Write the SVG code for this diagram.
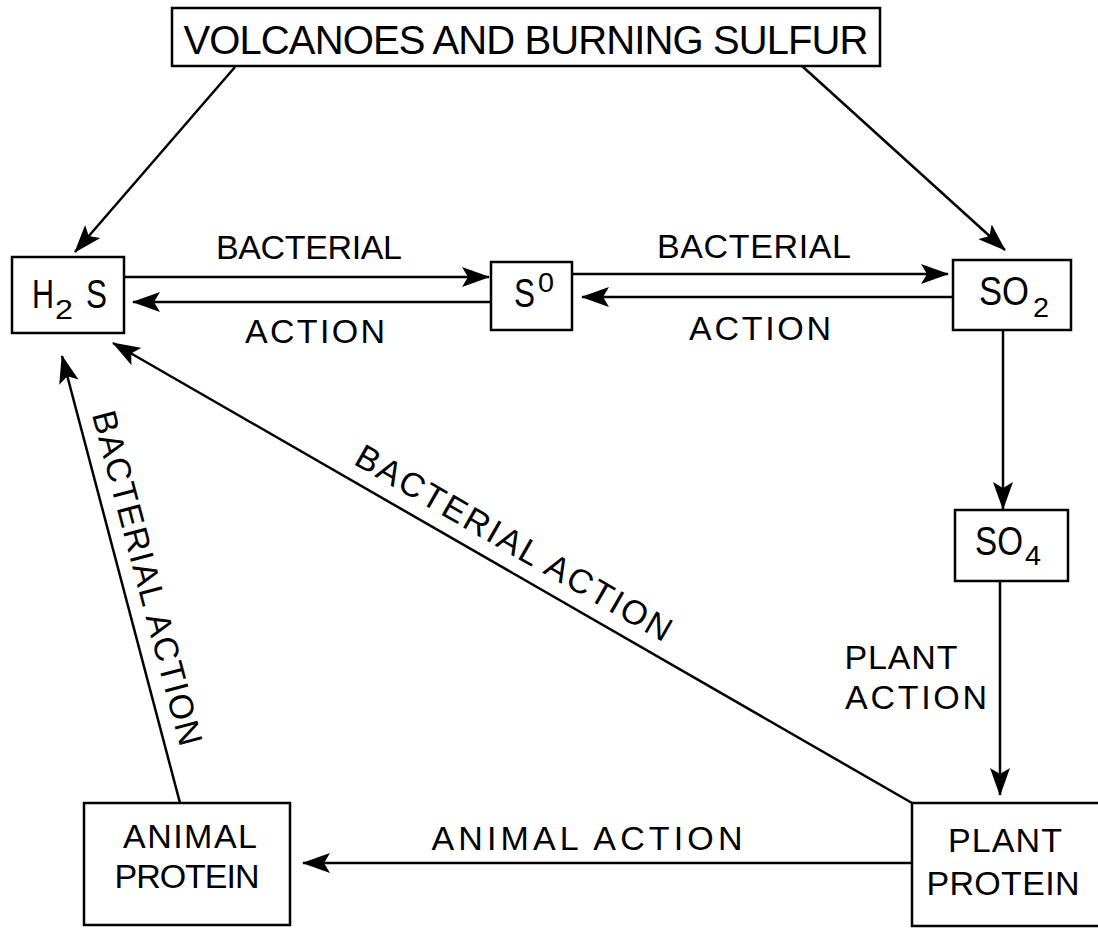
<svg xmlns="http://www.w3.org/2000/svg" width="1098" height="928" viewBox="0 0 1098 928">
<defs>
<style>
.box{fill:#fff;stroke:#000;stroke-width:2.5}
.ln{fill:none;stroke:#000;stroke-width:2.5;marker-end:url(#ah)}
text{font-family:"Liberation Sans",Arial,sans-serif;fill:#000}
.lb{font-size:34px;text-anchor:middle}
.nd{font-size:40px}
.sb{font-size:28px}
</style>
<marker id="ah" markerUnits="userSpaceOnUse" viewBox="0 0 28 20" refX="27" refY="10" markerWidth="28" markerHeight="20" orient="auto">
<path d="M0,0 L28,10 L0,20 L6,10 Z" fill="#000"/>
</marker>
</defs>
<rect width="1098" height="928" fill="#fff"/>
<g id="connectors">
<line class="ln" x1="235" y1="67" x2="75" y2="252"/>
<line class="ln" x1="802" y1="66" x2="1005" y2="250"/>
<line class="ln" x1="124" y1="277" x2="489" y2="277"/>
<line class="ln" x1="491" y1="302" x2="133" y2="302"/>
<line class="ln" x1="572" y1="274" x2="948" y2="274"/>
<line class="ln" x1="953" y1="297" x2="582" y2="297"/>
<line class="ln" x1="1003" y1="330" x2="1003" y2="509"/>
<line class="ln" x1="1000" y1="581" x2="1000" y2="795"/>
<line class="ln" x1="912" y1="863" x2="303" y2="863"/>
<line class="ln" x1="180" y1="803" x2="62" y2="356"/>
<line class="ln" x1="912" y1="803" x2="113" y2="343"/>
<text class="lb" x="309" y="259" textLength="186" lengthAdjust="spacing">BACTERIAL</text>
<text class="lb" x="315" y="343" textLength="140" lengthAdjust="spacing">ACTION</text>
<text class="lb" x="754" y="258" textLength="194" lengthAdjust="spacing">BACTERIAL</text>
<text class="lb" x="760" y="340" textLength="142" lengthAdjust="spacing">ACTION</text>
<text class="lb" x="901" y="669" textLength="113" lengthAdjust="spacing">PLANT</text>
<text class="lb" x="916" y="709" textLength="142" lengthAdjust="spacing">ACTION</text>
<text class="lb" x="587" y="850" textLength="311" lengthAdjust="spacing">ANIMAL ACTION</text>
<text class="lb" transform="translate(508,553) rotate(29.9)" textLength="359" lengthAdjust="spacing">BACTERIAL ACTION</text>
<text class="lb" transform="translate(136,581) rotate(75.15)" textLength="345" lengthAdjust="spacing">BACTERIAL ACTION</text>
</g>
<g id="volcanoes">
<rect class="box" x="172" y="8" width="708" height="58"/>
<text x="526" y="54" font-size="40" text-anchor="middle" textLength="685" lengthAdjust="spacing">VOLCANOES AND BURNING SULFUR</text>
</g>
<g id="h2s">
<rect class="box" x="12" y="257" width="112" height="76"/>
<text class="nd" x="32" y="308" textLength="22" lengthAdjust="spacingAndGlyphs">H</text>
<text class="sb" x="55" y="319" textLength="18" lengthAdjust="spacingAndGlyphs">2</text>
<text class="nd" x="86" y="308" textLength="21" lengthAdjust="spacingAndGlyphs">S</text>
</g>
<g id="s0">
<rect class="box" x="491" y="262" width="81" height="68"/>
<text class="nd" x="514" y="307" textLength="21" lengthAdjust="spacingAndGlyphs">S</text>
<text class="sb" x="538" y="292" textLength="16" lengthAdjust="spacingAndGlyphs">0</text>
</g>
<g id="so2">
<rect class="box" x="953" y="260" width="118" height="70"/>
<text class="nd" x="979" y="305" textLength="50" lengthAdjust="spacingAndGlyphs">SO</text>
<text class="sb" x="1033" y="317" textLength="16" lengthAdjust="spacingAndGlyphs">2</text>
</g>
<g id="so4">
<rect class="box" x="955" y="510" width="113" height="71"/>
<text class="nd" x="975" y="555" textLength="48" lengthAdjust="spacingAndGlyphs">SO</text>
<text class="sb" x="1025" y="565" textLength="16" lengthAdjust="spacingAndGlyphs">4</text>
</g>
<g id="plant-protein">
<path class="box" d="M1100,803 H912 V926 H1100"/>
<text class="lb" x="1005" y="852" textLength="114" lengthAdjust="spacing">PLANT</text>
<text class="lb" x="1003" y="895" textLength="153" lengthAdjust="spacing">PROTEIN</text>
</g>
<g id="animal-protein">
<rect class="box" x="84" y="803" width="206" height="122"/>
<text class="lb" x="190" y="848" textLength="134" lengthAdjust="spacing">ANIMAL</text>
<text class="lb" x="187" y="888" textLength="145" lengthAdjust="spacing">PROTEIN</text>
</g>
</svg>
